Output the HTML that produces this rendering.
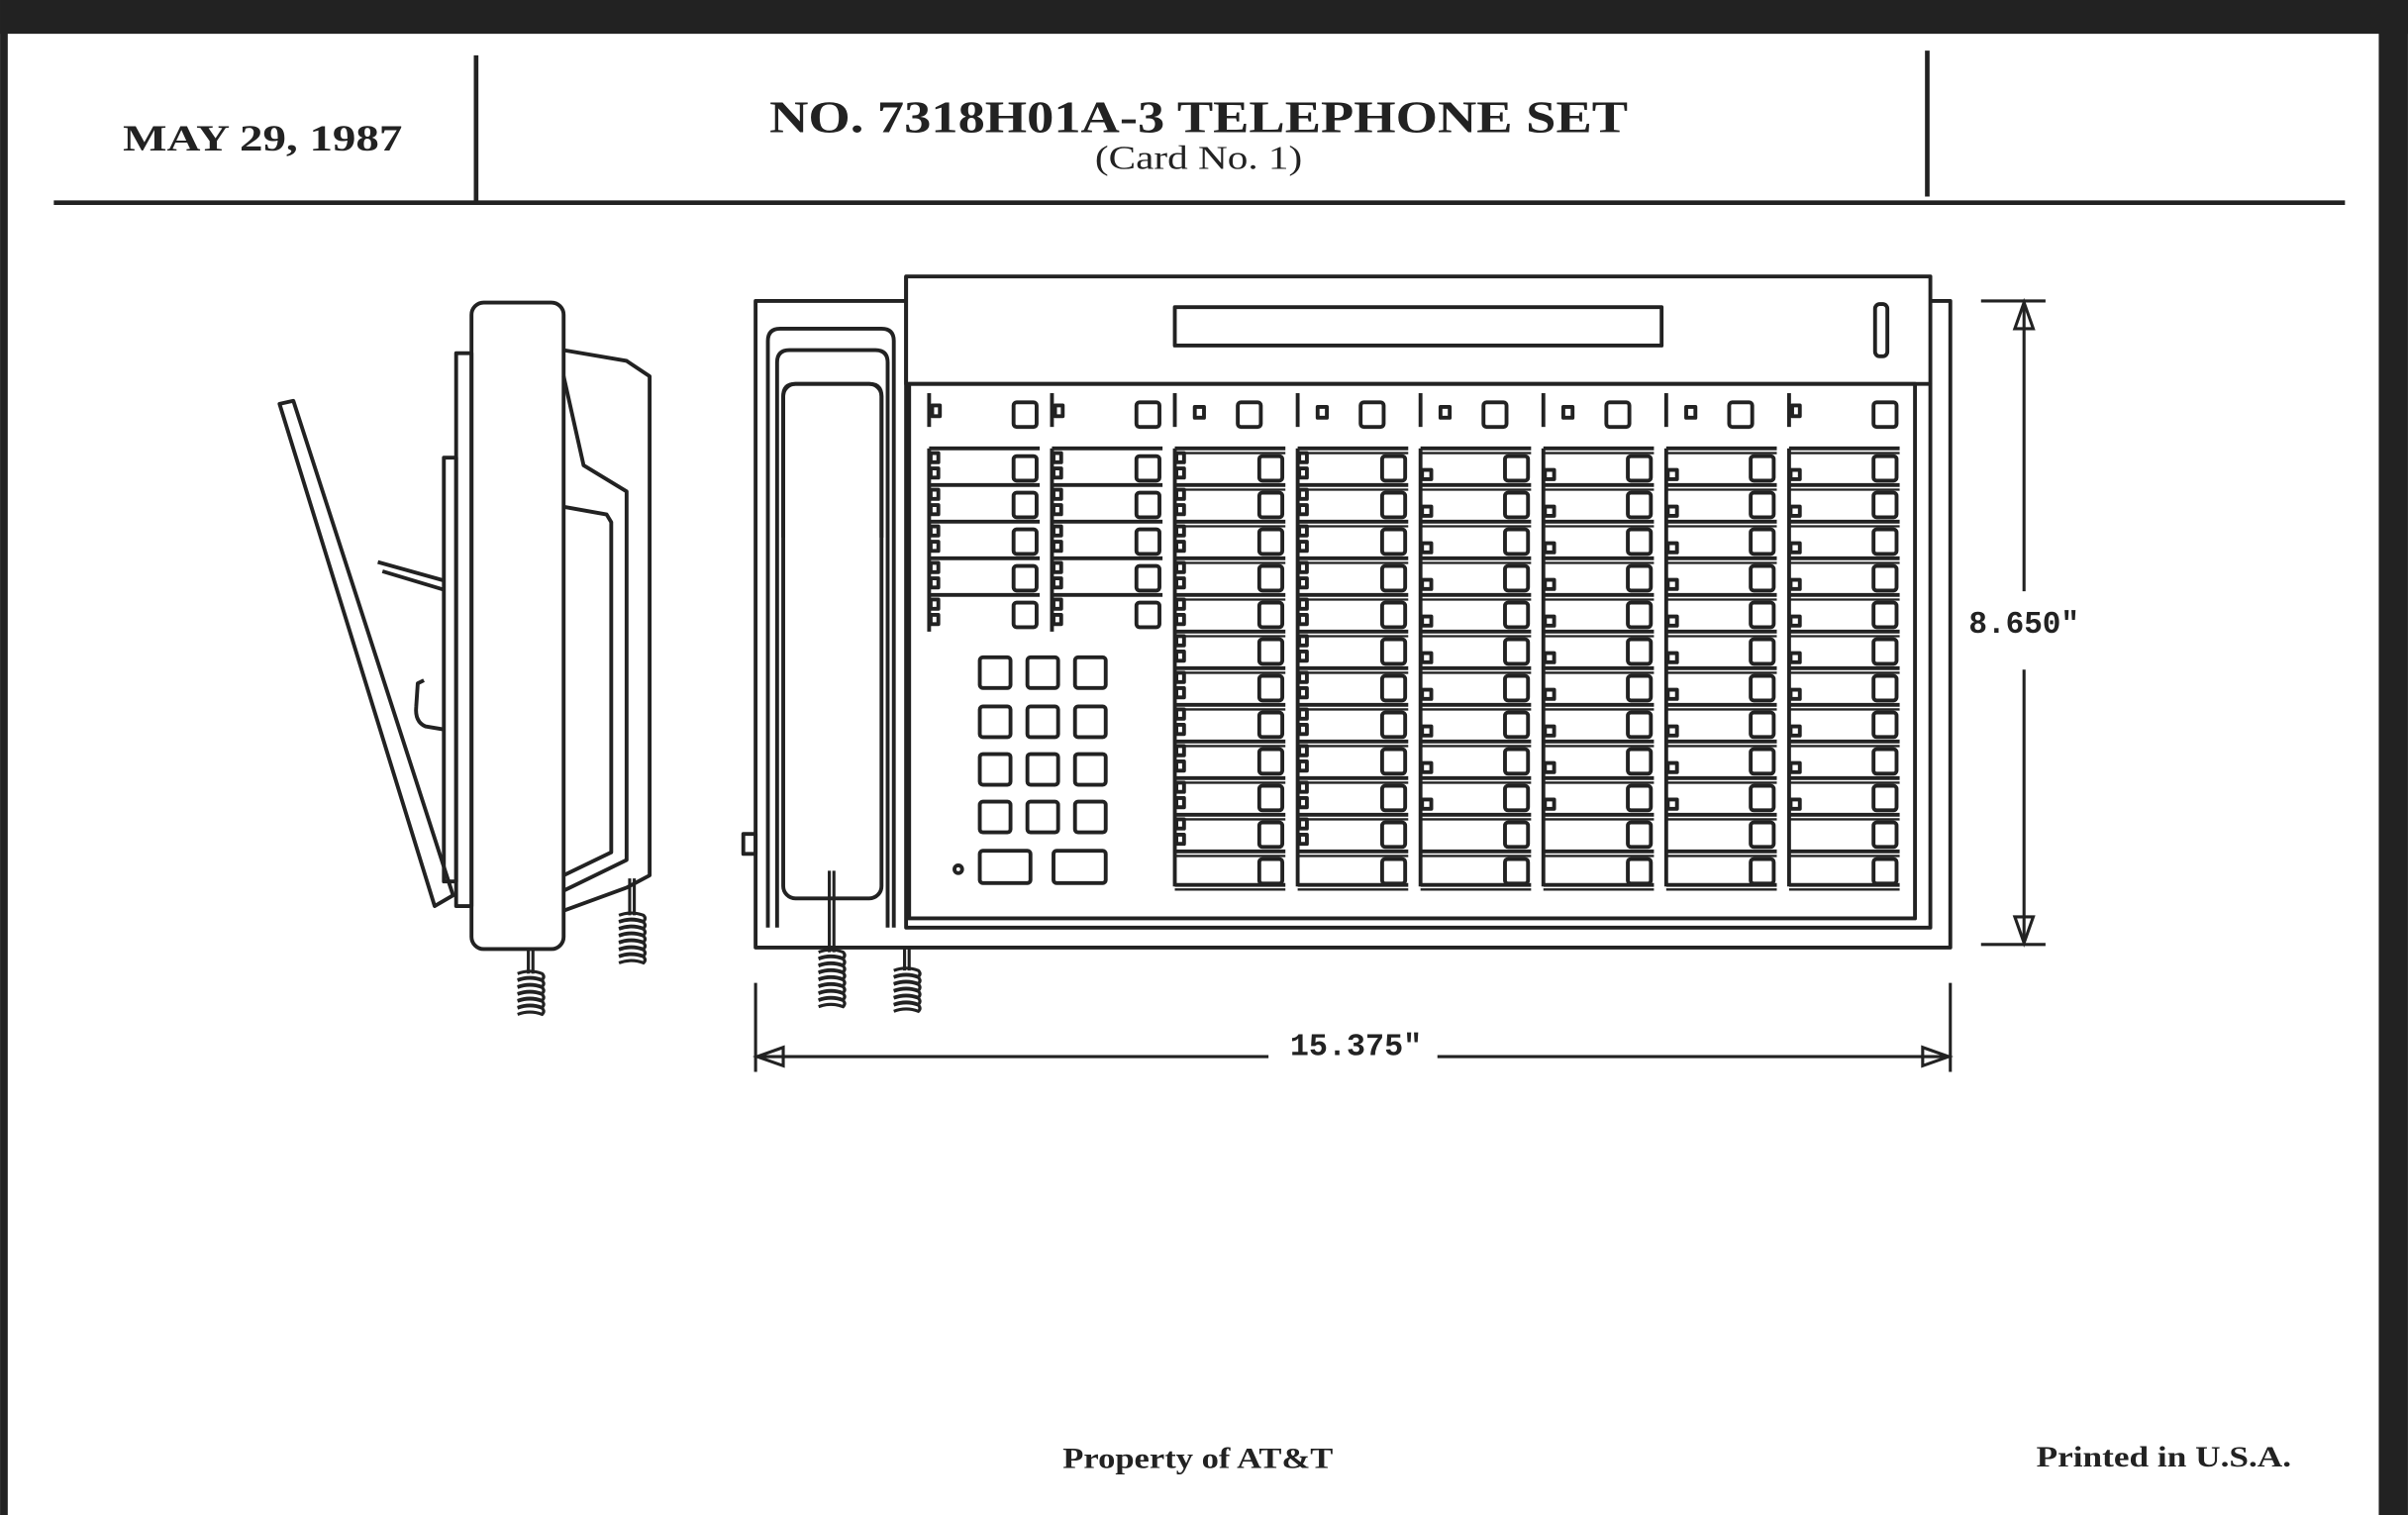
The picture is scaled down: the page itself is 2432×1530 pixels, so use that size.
<!DOCTYPE html>
<html><head><meta charset="utf-8"><style>
html,body{margin:0;padding:0;background:#fff;}
svg{display:block;}
text{fill:#222;}
</style></head><body>
<svg id="s" width="2432" height="1530" viewBox="0 0 1568 986.5" xmlns="http://www.w3.org/2000/svg">
<rect x="0" y="0" width="1568" height="986.5" fill="#fff"/>
<rect x="0" y="0" width="1568" height="22" fill="#222"/>
<rect x="0" y="0" width="5" height="986.5" fill="#222"/>
<rect x="1549" y="0" width="19" height="986.5" fill="#222"/>
<g stroke="#222" fill="none" stroke-width="3">
<line x1="35" y1="132" x2="1527" y2="132"/>
<line x1="310" y1="36" x2="310" y2="131"/>
<line x1="1255" y1="33" x2="1255" y2="128"/>
</g>
<text x="80" y="98" font-family="Liberation Serif,serif" font-weight="bold" font-size="24" textLength="182" lengthAdjust="spacingAndGlyphs">MAY 29, 1987</text>
<text x="501" y="86" font-family="Liberation Serif,serif" font-weight="bold" font-size="29" textLength="559" lengthAdjust="spacingAndGlyphs">NO. 7318H01A-3 TELEPHONE SET</text>
<text x="713" y="110" font-family="Liberation Serif,serif" font-size="22" textLength="135" lengthAdjust="spacingAndGlyphs">(Card No. 1)</text>
<text x="692" y="956" font-family="Liberation Serif,serif" font-weight="bold" font-size="19" textLength="176" lengthAdjust="spacingAndGlyphs">Property of AT&amp;T</text>
<text x="1326" y="955" font-family="Liberation Serif,serif" font-weight="bold" font-size="19" textLength="166" lengthAdjust="spacingAndGlyphs">Printed in U.S.A.</text>

<g id="front" stroke="#222" fill="none" stroke-width="2.5" stroke-linejoin="round">
<path d="M590 196 H492 V617 H1270 V196 H1257"/>
<rect x="590" y="180" width="667" height="70"/>
<path d="M590 180 V604 H1257 V250"/>
<rect x="592" y="250" width="655" height="348"/>
<rect x="765" y="200" width="317" height="25"/>
<rect x="1221" y="198" width="8" height="34" rx="3"/>
<rect x="484" y="543" width="8" height="13"/>
<path d="M500 604 V222 Q500 214 508 214 H574 Q582 214 582 222 V604"/>
<path d="M506 604 V236 Q506 228 514 228 H570 Q578 228 578 236 V604"/>
<path d="M510 350 V258 Q510 250 518 250 H566 Q574 250 574 258 V350"/>
<rect x="510" y="250" width="64" height="335" rx="8"/>
<g id="kp"></g>
<circle cx="624" cy="566" r="2.5"/>
<rect x="638" y="554" width="33" height="21" rx="2"/>
<rect x="686" y="554" width="34" height="21" rx="2"/>
<g id="cols"></g>
</g>

<g stroke="#222" fill="none" stroke-width="2">
<line x1="1290" y1="196" x2="1332" y2="196"/>
<line x1="1290" y1="615" x2="1332" y2="615"/>
<line x1="1318" y1="198" x2="1318" y2="385"/>
<line x1="1318" y1="436" x2="1318" y2="613"/>
<path d="M1318 197 L1312 214 H1324 Z"/>
<path d="M1318 614 L1312 597 H1324 Z"/>
<line x1="492" y1="640" x2="492" y2="698"/>
<line x1="1270" y1="640" x2="1270" y2="698"/>
<line x1="494" y1="688" x2="826" y2="688"/>
<line x1="936" y1="688" x2="1268" y2="688"/>
<path d="M493 688 L510 682 V694 Z"/>
<path d="M1269 688 L1252 682 V694 Z"/>
</g>
<text x="1282" y="412" font-family="Liberation Mono,monospace" font-weight="bold" font-size="20" textLength="72" lengthAdjust="spacingAndGlyphs">8.650"</text>
<text x="840" y="687" font-family="Liberation Mono,monospace" font-weight="bold" font-size="20" textLength="86" lengthAdjust="spacingAndGlyphs">15.375"</text>

<g stroke="#222" fill="none" stroke-width="2.5" stroke-linejoin="round">
<rect x="307" y="197" width="60" height="421" rx="8"/>
<rect x="297" y="230" width="10" height="360"/>
<rect x="289" y="298" width="8" height="276"/>
<path d="M367 228 L408 235 L423 245 V570 L408 578 L367 593"/>
<path d="M367 245 L380 303 L408 320 V560 L367 580"/>
<path d="M367 330 L395 335 L398 340 V555 L367 570"/>
<path d="M182 263 L191 261 L295 583 L283 590 Z"/>
<path d="M246 366 L289 378 M249 372 L289 384"/>
<path d="M289 475 L277 473 Q270 470 271 460 L272 445 L276 443"/>
</g>
<g id="coils" stroke="#222" fill="none" stroke-width="2"></g>
</svg>
<script>
var NS="http://www.w3.org/2000/svg";
function el(p,t,a){var e=document.createElementNS(NS,t);for(var k in a)e.setAttribute(k,a[k]);p.appendChild(e);return e;}
var kp=document.getElementById('kp');
[638,669,700].forEach(function(x){[428,460,491,522].forEach(function(y){el(kp,'rect',{x:x,y:y,width:20,height:20,rx:2});});});
var cols=document.getElementById('cols');
var starts=[605,685,765,845,925,1005,1085,1165];
starts.forEach(function(c,i){
  el(cols,'line',{x1:c,y1:256,x2:c,y2:278});
  var big=(i<2||i==7)?c+55:c+41;
  el(cols,'rect',{x:big,y:262,width:15,height:16,rx:2});
  if(i<2||i==7){el(cols,'rect',{x:c+2,y:264,width:5,height:7});}
  else el(cols,'rect',{x:c+13,y:265,width:6,height:7});
  var rows=(i<2)?5:12;
  var p=23.85, y0=292;
  el(cols,'line',{x1:c,y1:y0,x2:c,y2:y0+rows*p+(i<2?0:-1)});
  for(var r=0;r<rows;r++){
    var y=y0+r*p;
    el(cols,'line',{x1:c,y1:y,x2:c+72,y2:y});
    if(i>=2) el(cols,'line',{x1:c,y1:y+3,x2:c+72,y2:y+3,'stroke-width':1.5});
    el(cols,'rect',{x:c+55,y:y+5,width:15,height:16,rx:2});
    var led=(i<2)?2:((i<4)?(r<11?2:0):(r<10?1:0));
    if(led==2){el(cols,'rect',{x:c+1,y:y+3,width:5,height:6});el(cols,'rect',{x:c+1,y:y+13,width:5,height:6});}
    else if(led==1){el(cols,'rect',{x:c+1,y:y+14,width:6,height:6});}
  }
  if(i>=2){var yb=y0+rows*p;el(cols,'line',{x1:c,y1:yb-2,x2:c+72,y2:yb-2});el(cols,'line',{x1:c,y1:yb+1,x2:c+72,y2:yb+1,'stroke-width':1.5});}
});
var co=document.getElementById('coils');
function coil(x,yTop,yCoil,n){
  el(co,'line',{x1:x-1,y1:yTop,x2:x-1,y2:yCoil});el(co,'line',{x1:x+2,y1:yTop,x2:x+2,y2:yCoil});
  for(var k=0;k<n;k++){var y=yCoil+k*4.5;el(co,'path',{d:'M'+(x-8)+' '+y+' Q'+x+' '+(y-3)+' '+(x+8)+' '+y+' Q'+(x+10)+' '+(y+2)+' '+(x+8)+' '+(y+4)+' Q'+x+' '+(y+1)+' '+(x-8)+' '+(y+4)});}
}
coil(541,567,620,8);
coil(590,617,632,6);
coil(345,618,634,6);
coil(411,572,596,7);
</script>
</body></html>
